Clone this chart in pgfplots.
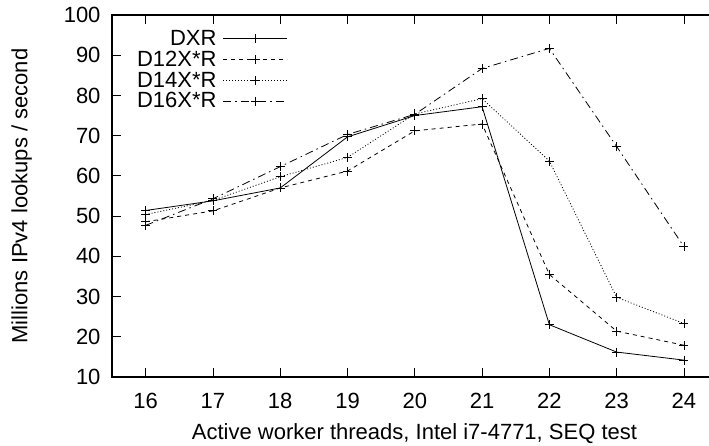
\documentclass[border=0pt]{standalone}
\usepackage{pgfplots}
\pgfplotsset{compat=1.18}
\usepackage{fontspec}
\setmainfont{Liberation Sans}
\newcommand{\gf}{\fontsize{22bp}{26bp}\selectfont}
\pgfplotstableread{
x dxr d12 d14 d16
16 51.4 48.6 50.4 47.7
17 53.8 51.3 53.9 54.3
18 57.0 57.0 59.8 62.3
19 69.7 61.2 64.6 70.3
20 75.0 71.2 75.4 75.3
21 77.2 72.9 79.2 86.7
22 23.0 35.5 63.7 91.7
23 16.2 21.4 29.8 67.3
24 14.2 17.9 23.3 42.4
}\datatable
\begin{document}
\begin{tikzpicture}
\clip (-112bp,-69bp) rectangle (597bp,377bp);
\begin{axis}[
  name=ax,
  scale only axis, width=605.6bp, height=362bp,
  xmin=15.5, xmax=24.5, ymin=10, ymax=100,
  xtick={16,17,...,24}, ytick={10,20,...,100},
  tick align=inside, major tick length=9bp,
  axis line style={line width=1.5bp},
  every tick/.style={line width=0.8bp, black},
  tick label style={font=\gf},
  xticklabel style={yshift=-13bp},
  yticklabel style={xshift=-8bp},
  label style={font=\gf},
  xlabel style={at={(axis description cs:0.4995,-0.174)}, anchor=base},
  ylabel style={at={(axis description cs:-0.149,0.5)}, anchor=center},
  /pgf/number format/assume math mode=true,
  xlabel={Active worker threads, Intel i7-4771, SEQ test},
  ylabel={Millions IPv4 lookups / second},
  legend style={draw=none, fill=none, font=\gf, inner sep=0pt, row sep=-2bp,
    column sep=0bp,
    anchor=north east, at={(0.2906,0.966)},
    nodes={inner xsep=6.5bp, inner ysep=3bp}},
  legend cell align=right,
  legend plot pos=right,
  legend image code/.code={\draw[mark repeat=2,mark phase=2,#1] plot coordinates {(0bp,0bp) (32bp,0bp) (64bp,0bp)};},
  every axis plot/.append style={black, line width=0.8bp, mark=+, mark size=4.5bp, mark options={solid, line width=0.8bp}},
]
\addplot[solid] table[x=x,y=dxr] {\datatable};
\addlegendentry{DXR}
\addplot[dash pattern=on 4bp off 4bp] table[x=x,y=d12] {\datatable};
\addlegendentry{D12X*R}
\addplot[dash pattern=on 1bp off 2bp] table[x=x,y=d14] {\datatable};
\addlegendentry{D14X*R}
\addplot[dash pattern=on 8bp off 4bp on 1.5bp off 4bp] table[x=x,y=d16] {\datatable};
\addlegendentry{D16X*R}
\end{axis}
\end{tikzpicture}
\end{document}
